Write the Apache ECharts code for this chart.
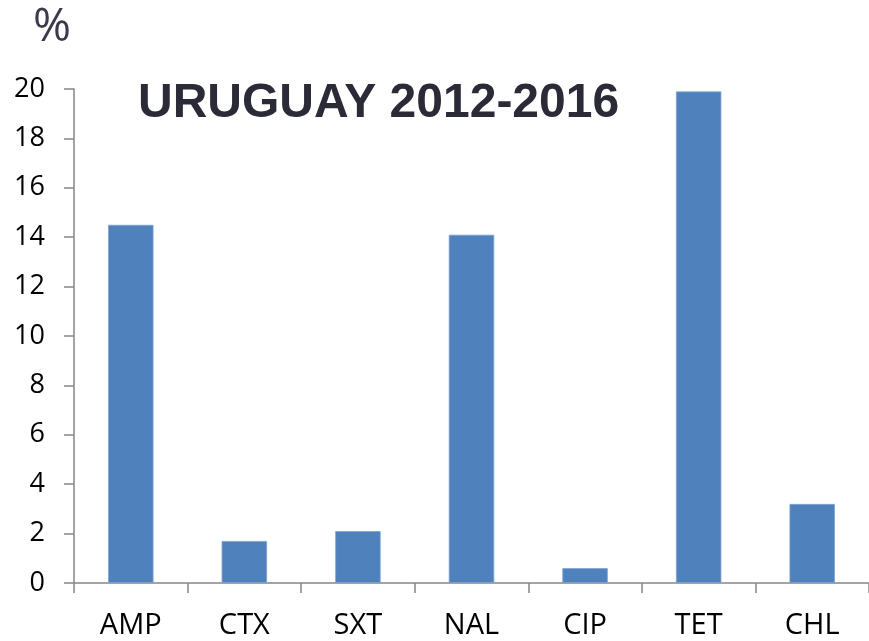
<!DOCTYPE html>
<html><head><meta charset="utf-8">
<script src="https://cdn.jsdelivr.net/npm/echarts@6/dist/echarts.min.js"></script>
<style>html,body{margin:0;padding:0;background:#fff}#c{width:869px;height:641px}</style>
</head><body><div id="c"></div>
<script>
const categories = ['AMP', 'CTX', 'SXT', 'NAL', 'CIP', 'TET', 'CHL'];
const values = [14.5, 1.7, 2.1, 14.1, 0.6, 19.9, 3.2];
const titleText = 'URUGUAY 2012-2016';
const unitText = '%';

const chart = echarts.init(document.getElementById('c'));
chart.setOption({
  animation: false,
  backgroundColor: '#ffffff',
  title: [
    { text: titleText, left: 133, top: 75,
      textStyle: { fontFamily: 'Liberation Sans', fontWeight: 'bold', fontSize: 48, color: '#2b2b38' } },
    { text: unitText, left: 28, top: 0,
      textStyle: { fontFamily: 'Open Sans', fontWeight: 'normal', fontSize: 46, color: '#3a3a4a' } }
  ],
  grid: { left: 74, top: 89, bottom: 58, width: 803, containLabel: false },
  xAxis: {
    type: 'category', data: categories,
    axisLine: { lineStyle: { color: '#868686', width: 1.5 } },
    axisTick: { show: true, length: 10, lineStyle: { color: '#868686', width: 1.5 } },
    axisLabel: { margin: 28, fontFamily: 'Open Sans', fontSize: 29, color: '#000' }
  },
  yAxis: {
    type: 'value', min: 0, max: 20, interval: 2,
    axisLine: { show: true, lineStyle: { color: '#868686', width: 1.5 } },
    axisTick: { show: true, length: 10, lineStyle: { color: '#868686', width: 1.5 } },
    splitLine: { show: false },
    axisLabel: { margin: 29, fontFamily: 'Open Sans', fontSize: 27, color: '#000' }
  },
  series: [{
    type: 'bar', data: values, barWidth: '40%',
    itemStyle: { color: '#4f81bd', borderColor: '#7fa3d1', borderWidth: 0.8 }
  }]
});
</script></body></html>
